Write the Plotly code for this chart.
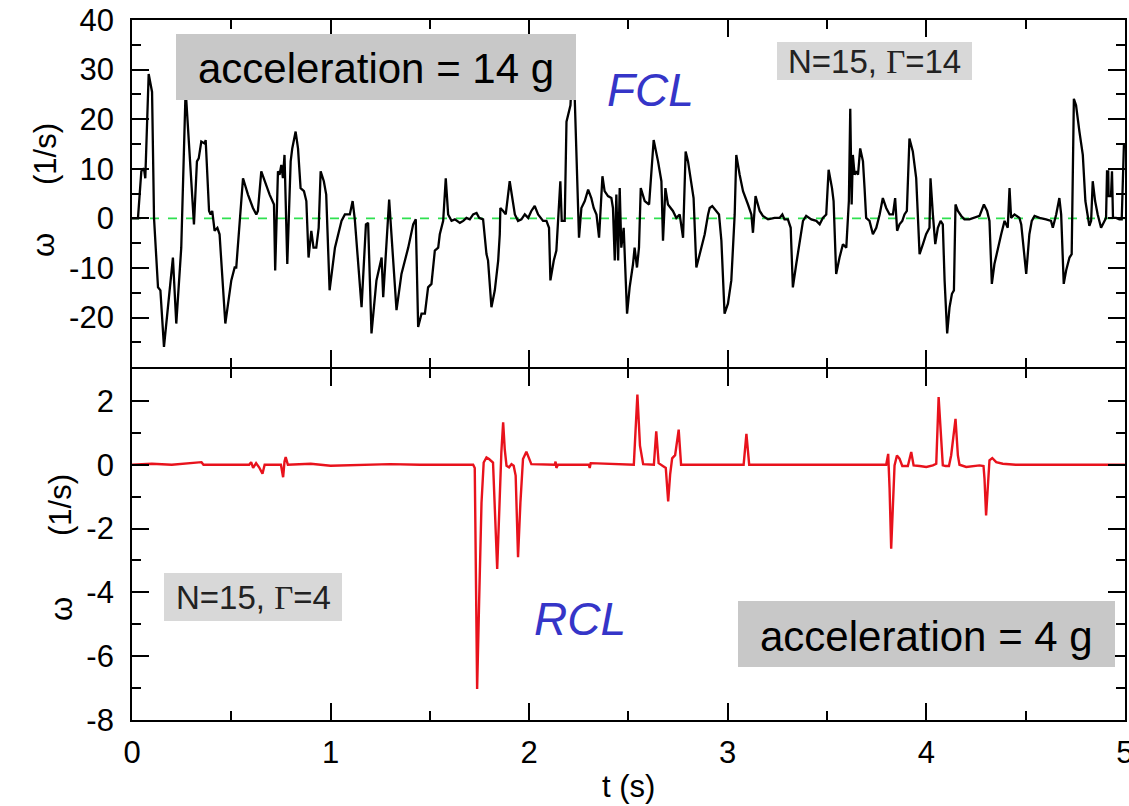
import plotly.graph_objects as go

# ---------------- data ----------------
t_fcl = [0.000, 0.030, 0.047, 0.060, 0.067, 0.084, 0.101, 0.111, 0.131, 0.143, 0.161, 0.206, 0.223, 0.248,
         0.270, 0.287, 0.307, 0.312, 0.327, 0.336, 0.349, 0.366, 0.371, 0.388, 0.396, 0.404, 0.416, 0.430,
         0.441, 0.470, 0.500, 0.517, 0.525, 0.542, 0.559, 0.584, 0.609, 0.626, 0.634, 0.651, 0.668, 0.693,
         0.715, 0.721, 0.735, 0.743, 0.752, 0.760, 0.768, 0.782, 0.799, 0.807, 0.824, 0.836, 0.849, 0.866,
         0.878, 0.889, 0.903, 0.914, 0.928, 0.940, 0.950, 0.966, 0.978, 0.995,
         1.022, 1.055, 1.072, 1.097, 1.111, 1.122, 1.156, 1.178, 1.189, 1.206, 1.231, 1.257, 1.265, 1.273,
         1.285, 1.295, 1.302, 1.332, 1.357, 1.391, 1.416, 1.429, 1.441, 1.458, 1.475, 1.491, 1.508, 1.525,
         1.542, 1.550, 1.567, 1.580, 1.592, 1.609, 1.626, 1.651, 1.668, 1.684, 1.701, 1.718, 1.735, 1.748,
         1.768, 1.785, 1.793, 1.810, 1.827, 1.844, 1.852, 1.855, 1.869, 1.882, 1.902, 1.916, 1.928, 1.944,
         1.961, 1.978, 1.995, 2.011,
         2.028, 2.045, 2.070, 2.087, 2.100, 2.107, 2.124, 2.137, 2.146, 2.157, 2.164, 2.179, 2.188, 2.201,
         2.208, 2.222, 2.229, 2.238, 2.251, 2.263, 2.280, 2.297, 2.313, 2.325, 2.339, 2.352, 2.359, 2.369,
         2.380, 2.397, 2.414, 2.422, 2.431, 2.439, 2.448, 2.456, 2.464, 2.476, 2.493, 2.506, 2.523, 2.531,
         2.543, 2.553, 2.562, 2.582, 2.604, 2.627, 2.649, 2.666, 2.674, 2.686, 2.699, 2.724, 2.741, 2.758,
         2.775, 2.788, 2.800, 2.817, 2.828, 2.842, 2.867, 2.884, 2.901, 2.909, 2.922, 2.942, 2.956, 2.968,
         2.984, 3.001, 3.018, 3.035, 3.043,
         3.060, 3.077, 3.102, 3.119, 3.127, 3.140, 3.161, 3.177, 3.203, 3.236, 3.261, 3.275, 3.286, 3.303,
         3.317, 3.328, 3.345, 3.362, 3.379, 3.395, 3.421, 3.446, 3.463, 3.479, 3.496, 3.508, 3.525, 3.533,
         3.546, 3.563, 3.580, 3.597, 3.605, 3.610, 3.617, 3.624, 3.630, 3.639, 3.647, 3.656, 3.667, 3.681,
         3.689, 3.697, 3.714, 3.731, 3.748, 3.765, 3.781, 3.798, 3.815, 3.832, 3.843, 3.853, 3.865, 3.879,
         3.890, 3.902, 3.915, 3.932, 3.949, 3.966, 3.983, 3.999, 4.016, 4.021,
         4.033, 4.045, 4.058, 4.072, 4.083, 4.092, 4.105, 4.117, 4.129, 4.139, 4.147, 4.159, 4.176, 4.192,
         4.217, 4.243, 4.268, 4.290, 4.306, 4.318, 4.330, 4.343, 4.360, 4.377, 4.394, 4.410, 4.419, 4.427,
         4.444, 4.469, 4.478, 4.491, 4.503, 4.519, 4.531, 4.545, 4.570, 4.603, 4.628, 4.637, 4.654, 4.670,
         4.679, 4.692, 4.704, 4.721, 4.732, 4.743, 4.754, 4.771, 4.788, 4.801, 4.813, 4.821, 4.830, 4.838,
         4.850, 4.863, 4.880, 4.897, 4.905, 4.910, 4.916, 4.918, 4.930, 4.935, 4.940, 4.956, 4.972, 4.984,
         4.995]
w_fcl = [0.0, 0.0, 9.5, 10.1, 8.1, 29.1, 25.5, 0.0, -13.9, -14.5, -25.9, -7.9, -21.2, -5.9,
         26.0, 14.1, 0.8, -1.2, 11.5, 12.1, 15.5, 15.1, 15.8, 1.5, 0.8, 1.5, -2.5, -1.9,
         -3.2, -21.2, -12.5, -9.9, -9.9, 0.1, 8.1, 4.8, 2.1, 0.8, 1.5, 9.5, 7.5, 4.8,
         2.8, -10.5, 9.5, 8.8, 10.8, 8.1, 12.8, -9.2, 11.5, 14.1, 17.5, 14.1, 6.1, 5.5,
         3.5, -7.9, -2.5, -5.9, -5.9, -1.9, 9.5, 7.5, 4.8, -14.5,
         -5.9, -0.5, 0.8, 0.8, 3.5, -0.2, -17.9, -1.2, -0.9, -23.2, -12.5, -7.9, -15.9, -9.9,
         -1.9, 3.8, -0.5, -18.5, -11.2, -5.9, -1.2, -0.2, -21.9, -19.2, -19.2, -13.9, -13.2, -6.5,
         -5.9, -3.2, -0.5, 8.1, 0.8, -0.5, -0.2, -0.9, -0.5, 0.1, -0.2, 0.8, 1.1, 0.1,
         -0.2, -7.2, -8.5, -17.9, -14.5, -8.5, -3.2, 2.1, 1.5, 0.8, 7.5, 3.5, 0.8, -0.5,
         -0.2, 0.8, 0.1, 1.5,
         2.5, 0.8, -0.5, -0.5, -1.9, -12.5, -8.5, -6.5, 0.8, 7.5, -0.5, -0.5, 19.5, 22.1,
         22.8, 34.0, 24.1, 10.8, -3.9, 2.1, 3.5, 5.8, 4.1, 2.1, 0.8, -3.9, 0.8, 8.5,
         5.5, 4.5, 4.1, 2.1, -8.5, 4.8, -8.5, 6.1, -5.9, -1.9, -19.2, -13.9, -9.2, -5.9,
         -9.9, -5.9, 6.1, 3.5, 2.8, 15.8, 11.5, 7.5, -4.5, 6.1, 2.8, 1.5, 0.1, 0.8,
         -3.9, 13.5, 11.5, 7.5, 4.1, -9.9, -5.9, -3.2, 0.8, 2.1, 2.5, 1.5, 0.8, -4.5,
         -19.2, -17.2, -12.5, 0.8, 12.8,
         8.8, 5.5, 2.8, 0.8, -2.9, 4.5, 1.5, 0.5, -0.2, 0.1, 0.1, 0.8, -0.2, -0.2,
         -1.9, -13.9, -9.2, -4.5, -0.5, 0.5, -0.2, -0.5, -1.2, 0.1, 0.8, 9.8, 6.1, 3.5,
         -11.2, -7.9, -5.2, -5.9, -0.5, 3.5, 22.1, 2.8, 12.8, 8.8, 9.5, 8.8, 14.1, 11.5,
         6.1, 0.1, -0.5, -3.2, -1.9, 0.8, 4.1, 2.1, 0.8, 0.8, 4.1, -2.5, -1.2, -0.5,
         0.8, 1.5, 16.1, 13.5, 8.1, -7.2, -5.2, -3.2, -1.9, 8.1,
         0.8, -5.2, -1.9, -0.5, -1.2, -12.5, -23.2, -17.9, -15.2, -14.5, 2.8, 1.5, 0.5, -0.2,
         -0.2, 0.1, 0.5, 2.8, 1.5, -0.5, -13.2, -9.2, -5.9, -3.2, -0.5, -1.9, 6.1, 0.1,
         0.8, 0.1, -1.2, -7.2, -11.2, -3.2, -0.5, 0.5, 0.1, -0.2, -0.5, -1.9, 0.8, 4.1,
         0.8, -13.2, -10.5, -7.9, -7.2, 24.1, 22.8, 17.5, 12.8, 3.5, 0.8, -1.5, -0.5, 7.5,
         3.5, 0.8, -1.9, -0.5, 0.1, 9.5, 9.5, 4.5, 4.5, 9.5, 0.1, 0.1, -0.2, -0.2,
         14.8]

t_rcl = [0.000, 0.100, 0.200, 0.350, 0.360, 0.590, 0.600, 0.610, 0.625, 0.640, 0.657, 0.668, 0.750,
         0.761, 0.768, 0.774, 0.785, 0.900, 1.000, 1.300, 1.450, 1.718, 1.726, 1.738, 1.748, 1.760,
         1.771, 1.785, 1.798, 1.810, 1.818, 1.839, 1.849, 1.860, 1.869, 1.877, 1.886, 1.899, 1.911,
         1.922, 1.932, 1.944, 1.956, 1.969, 1.986, 2.000, 2.011, 2.129, 2.133, 2.137, 2.145, 2.300,
         2.305, 2.310, 2.527, 2.545, 2.558, 2.574, 2.628, 2.640, 2.652, 2.688, 2.700, 2.710, 2.720,
         2.735, 2.753, 2.765, 3.080, 3.094, 3.108, 3.500, 3.798, 3.808, 3.815, 3.823, 3.832, 3.840,
         3.852, 3.865, 3.879, 3.907, 3.924, 3.936, 3.966, 4.000, 4.033, 4.050, 4.062, 4.072, 4.083,
         4.097, 4.114, 4.125, 4.147, 4.159, 4.167, 4.201, 4.234, 4.268, 4.288, 4.293, 4.301, 4.310,
         4.318, 4.332, 4.352, 4.385, 4.450, 5.000]
w_rcl = [0.0, 0.03, 0.0, 0.08, 0.0, 0.0, 0.08, -0.1, 0.05, -0.08, -0.28, 0.0, 0.0,
         -0.39, 0.1, 0.24, 0.0, 0.03, -0.03, 0.02, 0.0, 0.0, -0.1, -7.03, -4.3, -1.2,
         0.07, 0.23, 0.18, 0.13, 0.07, -3.27, -1.4, 0.39, 1.33, 0.49, -0.03, -0.08, 0.02,
         -0.03, -0.34, -2.9, -1.18, 0.18, 0.41, 0.18, 0.02, 0.0, 0.1, -0.1, 0.0, 0.0,
         -0.1, 0.05, 0.0, 2.2, 0.6, 0.02, 0.0, 1.05, 0.05, -0.1, -1.15, -0.3, 0.2,
         0.3, 1.1, 0.0, 0.0, 0.97, 0.0, 0.0, 0.0, 0.34, -0.75, -2.63, -1.48, -0.02,
         0.29, 0.19, -0.04, -0.04, 0.40, -0.02, -0.04, -0.07, -0.02, 0.03, 2.12, 1.13, -0.02,
         -0.04, -0.04, 0.29, 1.44, 0.29, 0.0, -0.07, -0.04, -0.02, -0.04, -0.44, -1.59, -0.44,
         0.14, 0.21, 0.08, 0.03, 0.0, 0.0]

x_ticks = [0, 1, 2, 3, 4, 5]
top_y_ticks = [-30, -20, -10, 0, 10, 20, 30, 40]
top_y_labels = ["", "-20", "-10", "0", "10", "20", "30", "40"]
bot_y_ticks = [-8, -6, -4, -2, 0, 2]
bot_y_labels = ["-8", "-6", "-4", "-2", "0", "2"]

# ---------------- layout geometry (pixels) ----------------
W, H = 1129, 806
L, R, T, B = 132, 4, 20, 86
PW, PH = W - L - R, H - T - B
split = 351 / PH
LW = 1.8


def px(x):
    return (x - L) / PW


def py(y):
    return (H - B - y) / PH


FONT = "Liberation Sans, Arial, Helvetica, sans-serif"
BLUE = "#3535c8"

fig = go.Figure()
fig.add_trace(go.Scatter(x=t_fcl, y=w_fcl, xaxis="x2", yaxis="y2", mode="lines",
                         line=dict(color="black", width=2.3), showlegend=False, hoverinfo="skip"))
fig.add_trace(go.Scatter(x=t_rcl, y=w_rcl, xaxis="x", yaxis="y", mode="lines",
                         line=dict(color="#e8121c", width=2.4), showlegend=False, hoverinfo="skip"))

axis_common = dict(showline=True, linecolor="black", linewidth=LW, mirror="allticks",
                   ticks="inside", ticklen=17, tickwidth=1.6, tickcolor="black",
                   showgrid=False, zeroline=False, automargin=False,
                   tickfont=dict(family=FONT, size=31, color="black"))
minor_common = dict(ticks="inside", ticklen=9, tickwidth=1.6, tickcolor="black")
x_range = [0, 5.0005]

fig.update_layout(
    width=W, height=H,
    margin=dict(l=L, r=R, t=T, b=B, pad=0, autoexpand=False),
    paper_bgcolor="white", plot_bgcolor="white",
    showlegend=False,
    xaxis=dict(axis_common, domain=[0, 1], anchor="y", range=x_range,
               tickmode="array", tickvals=x_ticks, ticktext=[str(v) for v in x_ticks],
               ticklabelstandoff=4, ticklabeloverflow="allow",
               minor=dict(minor_common, tickvals=[0.5, 1.5, 2.5, 3.5, 4.5])),
    xaxis2=dict(axis_common, domain=[0, 1], anchor="y2", range=x_range, matches="x",
                tickmode="array", tickvals=x_ticks, showticklabels=False,
                minor=dict(minor_common, tickvals=[0.5, 1.5, 2.5, 3.5, 4.5])),
    yaxis=dict(axis_common, domain=[0, split], anchor="x", range=[-8, 3],
               tickmode="array", tickvals=bot_y_ticks, ticktext=bot_y_labels,
               ticklabelstandoff=10,
               minor=dict(minor_common, tickvals=[-7, -5, -3, -1, 1])),
    yaxis2=dict(axis_common, domain=[split + LW / PH, 1], anchor="x2", range=[-30, 40],
                tickmode="array", tickvals=top_y_ticks, ticktext=top_y_labels,
                ticklabelstandoff=10,
                minor=dict(minor_common, tickvals=[-25, -15, -5, 5, 15, 25, 35])),
)

# green dashed zero reference in the top panel
fig.add_shape(type="line", xref="x2 domain", yref="y2", x0=0, x1=1, y0=0, y1=0,
              line=dict(color="#2fe050", width=1.6, dash="dash"), layer="below")

# grey boxes (drawn above the traces, as in the original)
boxes = [
    (176, 576, 34, 100, "#c8c8c8"),
    (777, 972, 42, 80, "#d8d8d8"),
    (164, 342, 573, 621, "#d8d8d8"),
    (738, 1115, 601, 667, "#c8c8c8"),
]
for x0, x1, y0, y1, col in boxes:
    fig.add_shape(type="rect", xref="paper", yref="paper",
                  x0=px(x0), x1=px(x1), y0=py(y1), y1=py(y0),
                  fillcolor=col, line=dict(width=0), layer="above")


def note(text, x, y, size, color="black", angle=0, family=FONT):
    fig.add_annotation(text=text, xref="paper", yref="paper", x=px(x), y=py(y),
                       xanchor="center", yanchor="middle", showarrow=False,
                       textangle=angle, font=dict(family=family, size=size, color=color))


GAMMA = '<span style="font-family:Liberation Serif, Times New Roman, serif">Γ</span>'
note("acceleration = 14 g", 376, 69, 42)
note("acceleration = 4 g", 926, 636, 42)
note("<i>FCL</i>", 650, 90, 46, BLUE)
note("<i>RCL</i>", 580, 619, 46, BLUE)
note("N=15, " + GAMMA + "=14", 874, 61, 33, "#222222")
note("N=15, " + GAMMA + "=4", 253, 597, 33, "#222222")
note("(1/s)", 46, 154, 31, angle=-90)
note("ω", 44, 245, 31, angle=-90)
note("(1/s)", 60, 505, 31, angle=-90)
note("ω", 61, 609, 31, angle=-90)
note("t (s)", 628, 786, 31)

fig.write_html("out.html", config={"displayModeBar": False})

# remove the default page margin so the figure sits at the window's top-left corner
with open("out.html", "r", encoding="utf-8") as f:
    html = f.read()
html = html.replace("<head>", "<head><style>html,body{margin:0;padding:0;overflow:hidden;}</style>", 1)
with open("out.html", "w", encoding="utf-8") as f:
    f.write(html)
